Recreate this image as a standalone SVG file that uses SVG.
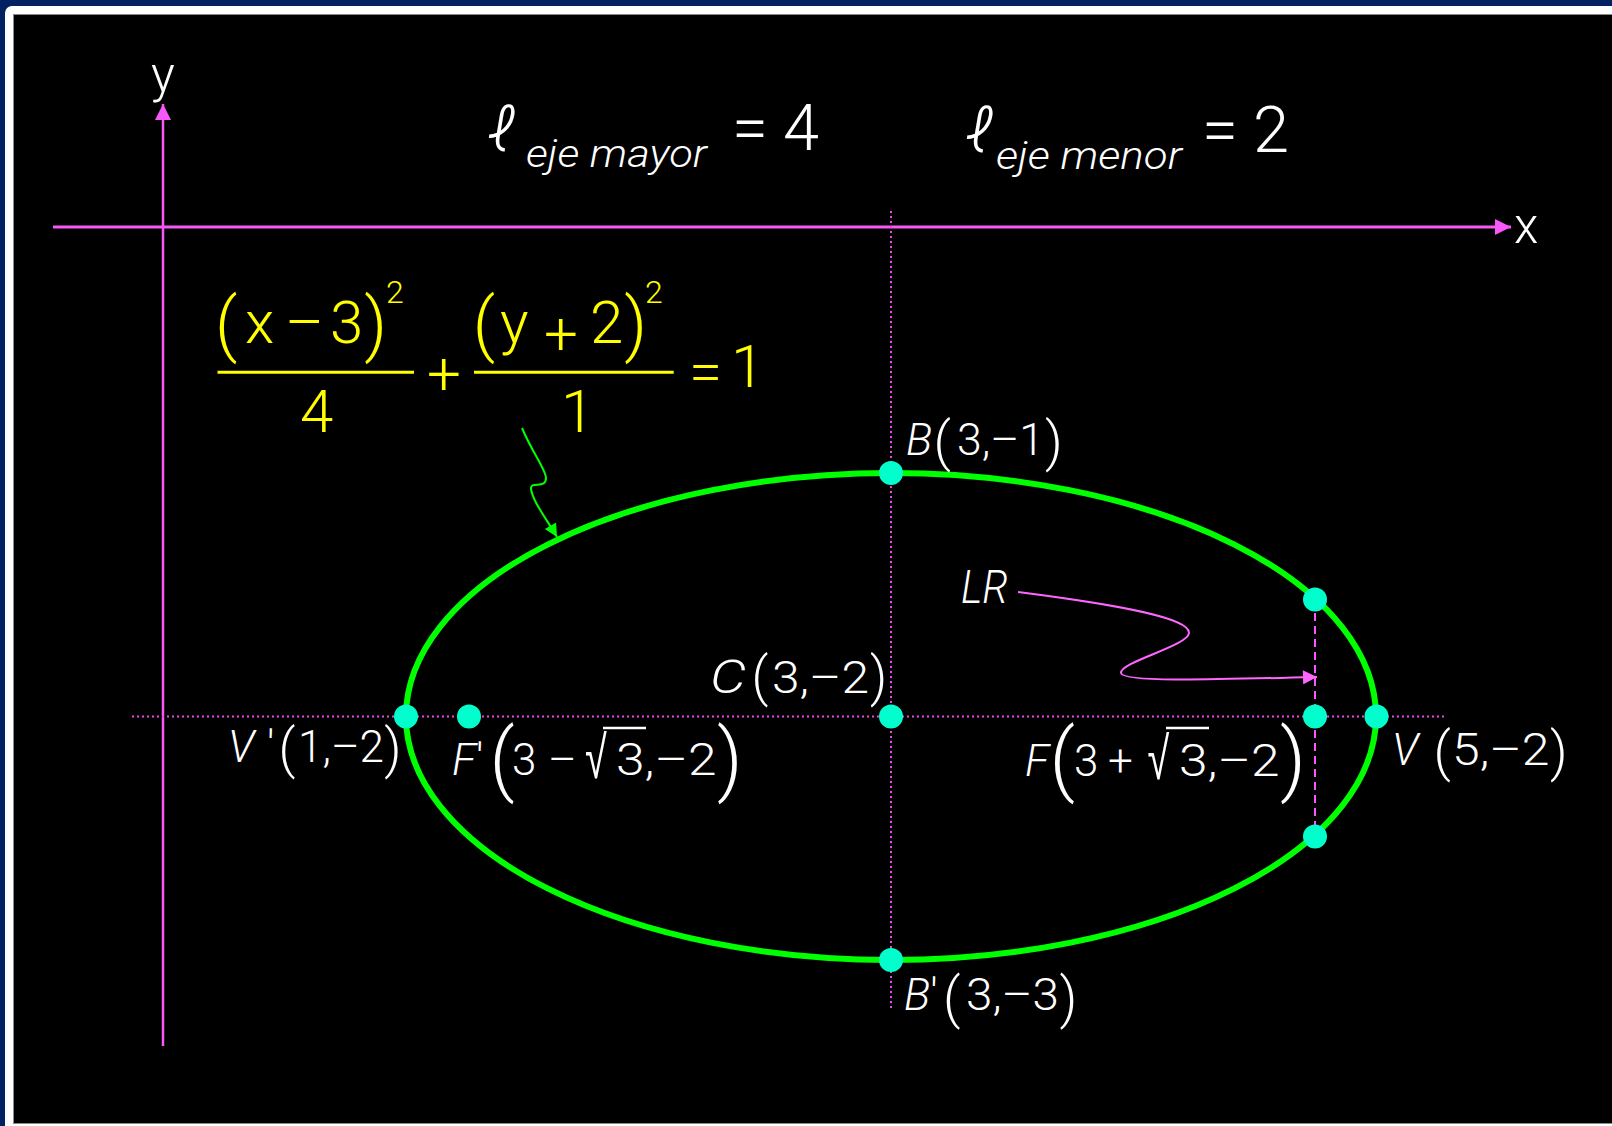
<svg xmlns="http://www.w3.org/2000/svg" width="1612" height="1126" viewBox="0 0 1612 1126">
<defs>
<style>
.t{font-family:Roboto,"Liberation Sans",sans-serif;font-weight:300}
.p{font-family:"Liberation Sans",Arial,sans-serif;font-weight:normal}
.w{fill:#ffffff}
.yl{fill:#ffff00}
.i{font-style:italic}
.axis{stroke:#f758f7;fill:none}
.dot{stroke:#ee44ee;stroke-width:2;stroke-dasharray:2 3;fill:none}
.pt{fill:#00ffcc}
</style>
<marker id="ma" viewBox="0 0 10 10" refX="10" refY="5" markerWidth="16" markerHeight="16" markerUnits="userSpaceOnUse" orient="auto"><path d="M0,0 L10,5 L0,10 z" fill="#f758f7"/></marker>
<marker id="mg" viewBox="0 0 10 10" refX="10" refY="5" markerWidth="22" markerHeight="13" markerUnits="userSpaceOnUse" orient="auto"><path d="M0,0 L10,5 L0,10 z" fill="#00ff00"/></marker>
<marker id="ml" viewBox="0 0 10 10" refX="10" refY="5" markerWidth="15" markerHeight="14" markerUnits="userSpaceOnUse" orient="auto"><path d="M0,0 L10,5 L0,10 z" fill="#ff66ff"/></marker>
</defs>
<rect x="0" y="0" width="1612" height="1126" fill="#022163"/>
<rect x="5" y="6" width="1620" height="1130" rx="7" fill="#ffffff"/>
<rect x="13.5" y="14.5" width="1610" height="1109" fill="#000000" stroke="#8a8a8a" stroke-width="1"/>

<g id="connectors">
<line class="axis" x1="53" y1="227" x2="1511" y2="227" stroke-width="3" marker-end="url(#ma)"/>
<line class="axis" x1="163" y1="1046" x2="163" y2="104" stroke-width="2.5" marker-end="url(#ma)"/>
<line class="dot" x1="132" y1="716.5" x2="1444" y2="716.5"/>
<line class="dot" x1="891" y1="211" x2="891" y2="1009"/>
<line x1="1315" y1="600" x2="1315" y2="837" stroke="#ff55ff" stroke-width="2" stroke-dasharray="8 5"/>
<path d="M1018,592 C1120,605 1190,618 1189,633 C1188,646 1120,662 1121,673 C1122,682 1200,680 1317,677" fill="none" stroke="#ff66ff" stroke-width="2" marker-end="url(#ml)"/>
<path d="M522,428 C532,452 546,470 546,478 C546,490 530,480 531,489 C533,502 546,518 557,537" fill="none" stroke="#00ff00" stroke-width="2" marker-end="url(#mg)"/>
</g>

<g id="ellipse">
<ellipse cx="891" cy="716.5" rx="485" ry="243.5" fill="none" stroke="#00ff00" stroke-width="6"/>
</g>

<g id="axis-labels" class="t w">
<text x="151" y="92" font-size="50">y</text>
<text x="1514" y="243" font-size="50">x</text>
</g>

<g id="title-major" class="t w">
<text class="i" x="487" y="151" font-size="62">ℓ</text>
<text class="i" x="526" y="167" font-size="38" textLength="181" lengthAdjust="spacingAndGlyphs">eje mayor</text>
<text x="732" y="150" font-size="65">=</text>
<text x="783" y="150" font-size="65">4</text>
</g>
<g id="title-minor" class="t w">
<text class="i" x="965" y="152" font-size="62">ℓ</text>
<text class="i" x="996" y="169" font-size="38" textLength="186" lengthAdjust="spacingAndGlyphs">eje menor</text>
<text x="1202" y="152" font-size="65">=</text>
<text x="1253" y="152" font-size="65">2</text>
</g>

<g id="equation" class="t yl">
<text font-size="60"><tspan x="215" y="348.2" font-size="70">(</tspan><tspan x="245" y="343">x</tspan><tspan x="285" y="343">–</tspan><tspan x="330" y="343">3</tspan><tspan x="364.2" y="348.2" font-size="70">)</tspan><tspan x="386" y="303" font-size="32">2</tspan></text>
<line x1="217.5" y1="372.3" x2="414" y2="372.3" stroke="#ffff00" stroke-width="3"/>
<text x="300" y="432" font-size="60">4</text>
<text x="427" y="394" font-size="60">+</text>
<text font-size="60"><tspan x="472.8" y="348.2" font-size="70">(</tspan><tspan x="500" y="343">y</tspan><tspan x="544" y="354">+</tspan><tspan x="590" y="343">2</tspan><tspan x="624.2" y="348.2" font-size="70">)</tspan><tspan x="645" y="303" font-size="32">2</tspan></text>
<line x1="474" y1="372.3" x2="673.7" y2="372.3" stroke="#ffff00" stroke-width="3"/>
<text x="561" y="432" font-size="60">1</text>
<text font-size="60"><tspan x="689" y="392">=</tspan><tspan x="731" y="387">1</tspan></text>
</g>

<g id="node-B">
<circle class="pt" cx="891" cy="473" r="12"/>
<text class="t w" font-size="44"><tspan class="i" x="906" y="455">B</tspan><tspan x="933.5" y="460.2" font-size="54.4">(</tspan><tspan x="957" y="455" textLength="87" lengthAdjust="spacingAndGlyphs">3,–1</tspan><tspan x="1045" y="460.2" font-size="54.4">)</tspan></text>
</g>

<g id="node-C">
<circle class="pt" cx="891" cy="716.5" r="12"/>
<text class="t w" font-size="44"><tspan class="i" x="710" y="693" font-size="46" textLength="36" lengthAdjust="spacingAndGlyphs">C</tspan><tspan x="751.5" y="695.3" font-size="52.9">(</tspan><tspan x="772" y="693" textLength="97" lengthAdjust="spacingAndGlyphs">3,–2</tspan><tspan x="870" y="695.3" font-size="52.9">)</tspan></text>
</g>

<g id="node-Bp">
<circle class="pt" cx="891" cy="960" r="12"/>
<text class="t w" font-size="44"><tspan class="i" x="904" y="1010">B</tspan><tspan>'</tspan><tspan x="943" y="1016.8" font-size="54.8">(</tspan><tspan x="966" y="1010" textLength="93" lengthAdjust="spacingAndGlyphs">3,–3</tspan><tspan x="1059.5" y="1016.8" font-size="54.8">)</tspan></text>
</g>

<g id="node-Vp">
<circle class="pt" cx="406" cy="716.5" r="12"/>
<text class="t w" font-size="44"><tspan class="i" x="228" y="762">V</tspan><tspan x="267">'</tspan><tspan x="278.5" y="767.3" font-size="52.9">(</tspan><tspan x="298" y="762" textLength="86" lengthAdjust="spacingAndGlyphs">1,–2</tspan><tspan x="384.2" y="767.3" font-size="52.9">)</tspan></text>
</g>

<g id="node-Fp">
<circle class="pt" cx="469" cy="716.5" r="12"/>
<text class="t w" font-size="44"><tspan class="i" x="452" y="775">F</tspan><tspan>'</tspan><tspan x="489.5" y="786.1" font-size="78.8">(</tspan><tspan x="512" y="775">3</tspan><tspan x="548">–</tspan></text>
<text class="p w" transform="translate(585,778) scale(0.9,1.35)" font-size="44">√</text>
<line x1="603" y1="728" x2="646" y2="728" stroke="#fff" stroke-width="2.5"/>
<text class="t w" font-size="44"><tspan x="616" y="775" textLength="100.5" lengthAdjust="spacingAndGlyphs">3,–2</tspan><tspan x="717" y="786.1" font-size="78.8">)</tspan></text>
</g>

<g id="node-F">
<circle class="pt" cx="1315" cy="716.5" r="12"/>
<text class="t w" font-size="44"><tspan class="i" x="1025" y="776">F</tspan><tspan x="1049.5" y="785.8" font-size="79.8">(</tspan><tspan x="1074" y="776">3</tspan><tspan x="1108">+</tspan></text>
<text class="p w" transform="translate(1147.5,779) scale(0.9,1.35)" font-size="44">√</text>
<line x1="1166" y1="728" x2="1209" y2="728" stroke="#fff" stroke-width="2.5"/>
<text class="t w" font-size="44"><tspan x="1179" y="776" textLength="100.5" lengthAdjust="spacingAndGlyphs">3,–2</tspan><tspan x="1280" y="785.8" font-size="79.8">)</tspan></text>
</g>

<g id="node-V">
<circle class="pt" cx="1376.5" cy="716.5" r="12"/>
<text class="t w" font-size="44"><tspan class="i" x="1392" y="765">V</tspan><tspan x="1433.5" y="770" font-size="54.1">(</tspan><tspan x="1452" y="765" textLength="97.5" lengthAdjust="spacingAndGlyphs">5,–2</tspan><tspan x="1550" y="770" font-size="54.1">)</tspan></text>
</g>

<g id="node-LR1"><circle class="pt" cx="1315" cy="599.5" r="12"/></g>
<g id="node-LR2"><circle class="pt" cx="1315" cy="836.5" r="12"/></g>

<g id="label-LR">
<text class="t w i" x="961" y="603" font-size="47" textLength="47" lengthAdjust="spacingAndGlyphs">LR</text>
</g>
</svg>
